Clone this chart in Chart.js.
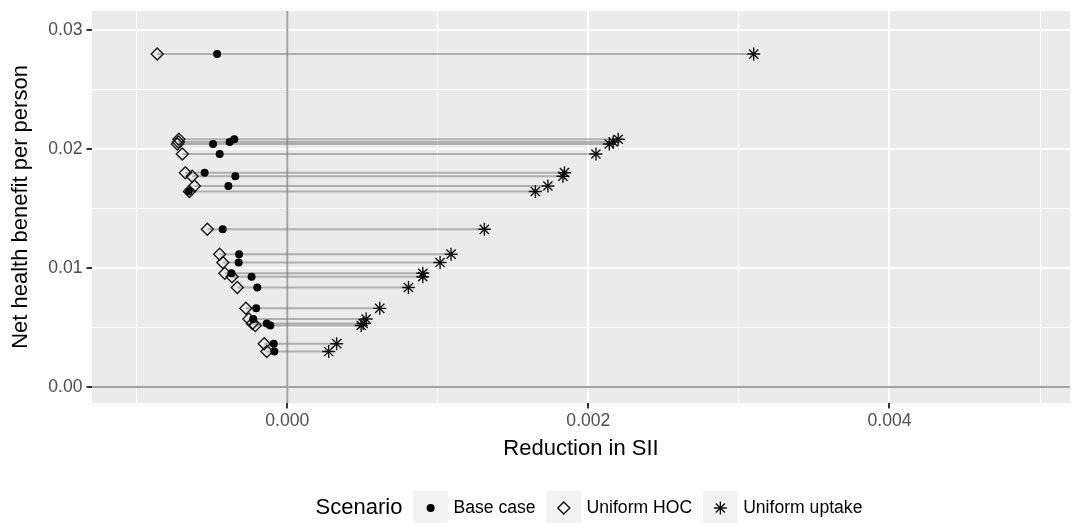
<!DOCTYPE html>
<html>
<head>
<meta charset="utf-8">
<script src="https://cdn.jsdelivr.net/npm/chart.js@4.4.1/dist/chart.umd.min.js"></script>
<style>
  html, body { margin: 0; padding: 0; background: #fff; }
  canvas { display: block; }
</style>
</head>
<body>
<canvas id="chart" width="1081" height="523"></canvas>
<script>
//one entry per row
var netBenefit = [0.02798, 0.02082, 0.02059, 0.02042, 0.01958, 0.01801, 0.01771, 0.01689, 0.01643, 0.01325, 0.01116,
	0.01046, 0.00956, 0.00927, 0.00836, 0.00661, 0.00571, 0.00534, 0.00517, 0.00364, 0.00298];
var baseCase = [-0.000466, -0.000352, -0.000383, -0.000493, -0.000449, -0.000549, -0.000345, -0.000391, -0.000655, -0.000429, -0.000320,
	-0.000323, -0.000371, -0.000237, -0.000199, -0.000206, -0.000226, -0.000136, -0.000113, -0.000090, -0.000086];
var uniformHOC = [-0.000864, -0.000720, -0.000723, -0.000730, -0.000697, -0.000677, -0.000632, -0.000617, -0.000650, -0.000531, -0.000449,
	-0.000428, -0.000415, -0.000367, -0.000332, -0.000275, -0.000255, -0.000232, -0.000212, -0.000153, -0.000136];
var uniformUptake = [0.003098, 0.002198, 0.002165, 0.002139, 0.002050, 0.001841, 0.001831, 0.001731, 0.001648, 0.001309, 0.001088,
	0.001015, 0.000900, 0.000900, 0.000805, 0.000614, 0.000524, 0.000504, 0.000491, 0.000328, 0.000275];

var scenarios = ['Base case', 'Uniform HOC', 'Uniform uptake'];
var xTicks = [0.000, 0.002, 0.004];
var yTicks = [0.00, 0.01, 0.02, 0.03];

var FONT = "'Liberation Sans', Arial, Helvetica, sans-serif";
var TICK_COLOR = '#4D4D4D';

function points( xs ) {
	var out = [];
	for ( var n = 0; n < xs.length; n++ ) {
		out.push({ x: xs[n], y: netBenefit[n] });
	}
	return out;
}

function isMajor( value, list ) {
	for ( var n = 0; n < list.length; n++ ) {
		if ( Math.abs(value - list[n]) < 1e-9 ) return true;
	}
	return false;
}

//grey connecting line for each row
var rowLines = [];
for ( var n = 0; n < netBenefit.length; n++ ) {
	var xs = [baseCase[n], uniformHOC[n], uniformUptake[n]].sort(function(a, b) { return a - b; });
	rowLines.push({
		type: 'scatter',
		data: xs.map(function(v) { return { x: v, y: netBenefit[n] }; }),
		showLine: true,
		borderColor: 'rgba(115,115,115,0.5)',
		borderWidth: 2,
		pointRadius: 0,
		order: 5
	});
}

var pointSets = [
	{ label: scenarios[0], data: points(baseCase), pointStyle: 'circle', pointRadius: 4,
		backgroundColor: '#000', borderColor: '#000', pointBorderWidth: 0, order: 0 },
	{ label: scenarios[1], data: points(uniformHOC), pointStyle: 'rectRot', pointRadius: 6,
		backgroundColor: 'rgba(0,0,0,0)', borderColor: '#1a1a1a', pointBorderWidth: 1.4, order: 1 },
	{ label: scenarios[2], data: points(uniformUptake), pointStyle: 'star', pointRadius: 6.5,
		backgroundColor: '#000', borderColor: '#111', pointBorderWidth: 1.4, order: 2 }
];

var panelPlugin = {
	id: 'panel',
	beforeDraw: function(chart) {
		var a = chart.chartArea, ctx = chart.ctx;
		ctx.save();
		ctx.fillStyle = '#EBEBEB';
		ctx.fillRect(a.left, a.top, a.right - a.left, a.bottom - a.top);
		ctx.restore();
	},
	beforeDatasetsDraw: function(chart) {
		var a = chart.chartArea, ctx = chart.ctx;
		var x0 = chart.scales.x.getPixelForValue(0),
			y0 = chart.scales.y.getPixelForValue(0);
		ctx.save();
		ctx.strokeStyle = '#A3A3A3';
		ctx.lineWidth = 2;
		ctx.beginPath();
		ctx.moveTo(x0, a.top); ctx.lineTo(x0, a.bottom);
		ctx.moveTo(a.left, y0); ctx.lineTo(a.right, y0);
		ctx.stroke();
		ctx.restore();
	}
};

function drawKeyMarker( ctx, style, x, y ) {
	ctx.save();
	ctx.strokeStyle = '#111';
	ctx.fillStyle = '#000';
	ctx.lineWidth = 1.4;
	ctx.beginPath();
	if ( style === 'circle' ) {
		ctx.arc(x, y, 4, 0, Math.PI * 2);
		ctx.fill();
	} else if ( style === 'rectRot' ) {
		ctx.moveTo(x, y - 6); ctx.lineTo(x + 6, y); ctx.lineTo(x, y + 6); ctx.lineTo(x - 6, y); ctx.closePath();
		ctx.stroke();
	} else {
		var r = 6.5;
		for ( var k = 0; k < 4; k++ ) {
			var ang = k * Math.PI / 4;
			ctx.moveTo(x - Math.cos(ang) * r, y - Math.sin(ang) * r);
			ctx.lineTo(x + Math.cos(ang) * r, y + Math.sin(ang) * r);
		}
		ctx.stroke();
	}
	ctx.restore();
}

var legendPlugin = {
	id: 'scenarioLegend',
	afterDraw: function(chart) {
		var ctx = chart.ctx;
		var styles = ['circle', 'rectRot', 'star'];
		var keySize = 34.5, gap = 11, textGap = 5.5, cy = 508;
		ctx.save();
		ctx.textBaseline = 'middle';
		ctx.font = '22px ' + FONT;
		var titleW = ctx.measureText('Scenario').width;
		ctx.font = '17.6px ' + FONT;
		var total = titleW;
		var widths = scenarios.map(function(s) { return ctx.measureText(s).width; });
		widths.forEach(function(w) { total += gap + keySize + textGap + w; });
		var x = 589 - total / 2;

		ctx.fillStyle = '#000';
		ctx.font = '22px ' + FONT;
		ctx.fillText('Scenario', x, cy);
		x += titleW;
		ctx.font = '17.6px ' + FONT;
		for ( var n = 0; n < scenarios.length; n++ ) {
			x += gap;
			ctx.fillStyle = '#F2F2F2';
			ctx.fillRect(x, cy - keySize / 2, keySize, keySize);
			drawKeyMarker(ctx, styles[n], x + keySize / 2, cy);
			x += keySize + textGap;
			ctx.fillStyle = '#000';
			ctx.fillText(scenarios[n], x, cy);
			x += widths[n];
		}
		ctx.restore();
	}
};

Chart.defaults.font.family = FONT;

var chart = new Chart(document.getElementById('chart').getContext('2d'), {
	type: 'scatter',
	data: { datasets: pointSets.concat(rowLines) },
	options: {
		responsive: false,
		animation: false,
		events: [],
		layout: { padding: { left: 0, right: 11, top: 11, bottom: 61 } },
		plugins: {
			legend: { display: false },
			tooltip: { enabled: false }
		},
		scales: {
			x: {
				type: 'linear',
				min: -0.001297,
				max: 0.005199,
				afterFit: function(s) { s.height = 59; s.paddingLeft = 0; s.paddingRight = 0; },
				border: { display: false },
				grid: {
					color: '#FFFFFF',
					lineWidth: function(c) { return isMajor(c.tick.value, xTicks) ? 2 : 1; },
					tickColor: function(c) { return isMajor(c.tick.value, xTicks) ? '#333333' : 'rgba(0,0,0,0)'; },
					tickWidth: 2,
					tickLength: 5.5
				},
				ticks: {
					stepSize: 0.001,
					includeBounds: false,
					autoSkip: false,
					maxRotation: 0,
					padding: 2,
					color: TICK_COLOR,
					font: { size: 17.6 },
					callback: function(v) { return isMajor(v, xTicks) ? v.toFixed(3) : ''; }
				},
				title: {
					display: true,
					text: 'Reduction in SII',
					color: '#000',
					font: { size: 22 },
					padding: { top: 0, bottom: 0 }
				}
			},
			y: {
				type: 'linear',
				min: -0.001345,
				max: 0.031597,
				afterFit: function(s) { s.width = 92; s.paddingTop = 0; s.paddingBottom = 0; },
				border: { display: false },
				grid: {
					color: '#FFFFFF',
					lineWidth: function(c) { return isMajor(c.tick.value, yTicks) ? 2 : 1; },
					tickColor: function(c) { return isMajor(c.tick.value, yTicks) ? '#333333' : 'rgba(0,0,0,0)'; },
					tickWidth: 2,
					tickLength: 5.5
				},
				ticks: {
					stepSize: 0.005,
					includeBounds: false,
					autoSkip: false,
					padding: 4,
					color: TICK_COLOR,
					font: { size: 17.6 },
					callback: function(v) { return isMajor(v, yTicks) ? v.toFixed(2) : ''; }
				},
				title: {
					display: true,
					text: 'Net health benefit per person',
					color: '#000',
					font: { size: 22 },
					padding: { top: 8, bottom: 0 }
				}
			}
		}
	},
	plugins: [panelPlugin, legendPlugin]
});
</script>
</body>
</html>
